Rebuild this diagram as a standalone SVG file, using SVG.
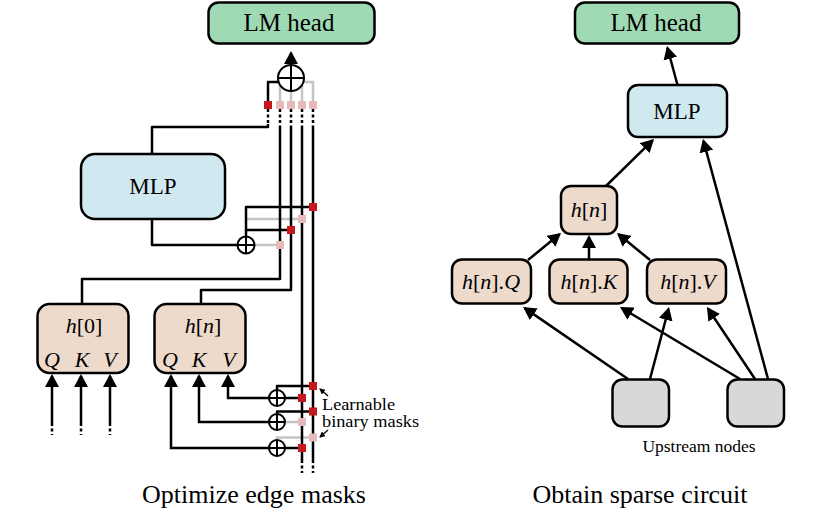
<svg xmlns="http://www.w3.org/2000/svg" width="832" height="517" viewBox="0 0 832 517">
<defs>
<marker id="ah" viewBox="0 0 13 14" refX="11" refY="7" markerWidth="13" markerHeight="14" markerUnits="userSpaceOnUse" orient="auto"><path d="M0,0 L13,7 L0,14 z" fill="#000"/></marker>
<marker id="ahs" viewBox="0 0 6 6" refX="5" refY="3" markerWidth="6" markerHeight="6" markerUnits="userSpaceOnUse" orient="auto"><path d="M0,0 L6,3 L0,6 z" fill="#000"/></marker>
</defs>
<style>
.box{stroke:#000;stroke-width:2.5}
.lm{fill:#a0dab5}
.mlp{fill:#d0e8ef}
.att{fill:#eddacb}
.up{fill:#d8d8d8}
.t{font-family:"Liberation Serif","Times New Roman",serif;fill:#000}
.i{font-style:italic}
.w{fill:none;stroke:#000;stroke-width:2.5;stroke-linejoin:round}
.g{fill:none;stroke:#c4c4c4;stroke-width:2.5}
.d{fill:none;stroke:#000;stroke-width:2.5;stroke-dasharray:3 2.5}
.on{fill:#c8161d}
.off{fill:#e8b9b9}
.sum{fill:#fff;stroke:#000;stroke-width:2}
.pl{stroke:#000;stroke-width:2}
.a{fill:none;stroke:#000;stroke-width:2.5;marker-end:url(#ah)}
.as{fill:none;stroke:#000;stroke-width:1.3;marker-end:url(#ahs)}
</style>

<!-- LEFT PANEL -->
<g id="connectors-left">
  <!-- gray (masked-off) edges -->
  <path class="g" d="M280,101 V82 H313 V101 M291,101 V82 M302,101 V82"/>
  <path class="g" d="M246,219 H302"/>
  <path class="g" d="M254,245 H280"/>
  <path class="g" d="M285,422 H302"/>
  <path class="g" d="M277,440 V437.5 H313"/>
  <!-- dotted stream segments -->
  <path class="d" d="M268,109 V124 M280,109 V127 M291,109 V127 M302,109 V127 M313,109 V127"/>
  <path class="d" d="M302,460 V473 M313,460 V473"/>
  <path class="d" d="M52,423 V435 M81,423 V435 M110,423 V435"/>
  <!-- black (active) edges -->
  <path class="w" d="M268,101 V82 H291"/>
  <path class="w" d="M268,124 V127 H152 V154"/>
  <path class="w" d="M280,127 V279 H82 V304"/>
  <path class="w" d="M291,127 V290 H201 V304"/>
  <path class="w" d="M302,127 V460 M313,127 V460"/>
  <path class="w" d="M152,219 V245 H246"/>
  <path class="w" d="M246,237 V207 H313 M246,230 H291"/>
  <path class="w" d="M277,390 V386 H313 M285,398 H302"/>
  <path class="w" d="M277,414 V411.5 H313"/>
  <path class="w" d="M285,448 H302"/>
  <!-- arrows into attention inputs -->
  <path class="a" d="M277,398 H228 V376"/>
  <path class="a" d="M277,422 H199 V376"/>
  <path class="a" d="M277,448 H171 V376"/>
  <path class="a" d="M52,423 V376"/>
  <path class="a" d="M81,423 V376"/>
  <path class="a" d="M110,423 V376"/>
  <path class="a" d="M291,66 V53"/>
  <!-- label pointers -->
  <path class="as" d="M328,396 L320,389"/>
  <path class="as" d="M328,430 L320,437"/>
</g>

<g id="masks">
  <rect class="on" x="264" y="101" width="8" height="8"/>
  <rect class="off" x="276" y="101" width="8" height="8"/>
  <rect class="off" x="287" y="101" width="8" height="8"/>
  <rect class="off" x="298" y="101" width="8" height="8"/>
  <rect class="off" x="309" y="101" width="8" height="8"/>
  <rect class="on" x="309" y="203" width="8" height="8"/>
  <rect class="off" x="298" y="215" width="8" height="8"/>
  <rect class="on" x="287" y="226" width="8" height="8"/>
  <rect class="off" x="276" y="241" width="8" height="8"/>
  <rect class="on" x="309" y="382" width="8" height="8"/>
  <rect class="on" x="298" y="394" width="8" height="8"/>
  <rect class="on" x="309" y="407.5" width="8" height="8"/>
  <rect class="off" x="298" y="418" width="8" height="8"/>
  <rect class="off" x="309" y="433.5" width="8" height="8"/>
  <rect class="on" x="298" y="444" width="8" height="8"/>
</g>

<g id="sum-top"><circle class="sum" cx="291" cy="78" r="13"/><path class="pl" d="M278,78 H304 M291,65 V91"/></g>
<g id="sum-mlp"><circle class="sum" cx="246" cy="245" r="8.5"/><path class="pl" d="M237.5,245 H254.5 M246,236.5 V253.5"/></g>
<g id="sum-v"><circle class="sum" cx="277" cy="398" r="8"/><path class="pl" d="M269,398 H285 M277,390 V406"/></g>
<g id="sum-k"><circle class="sum" cx="277" cy="422" r="8"/><path class="pl" d="M269,422 H285 M277,414 V430"/></g>
<g id="sum-q"><circle class="sum" cx="277" cy="448" r="8"/><path class="pl" d="M269,448 H285 M277,440 V456"/></g>

<g id="lm-head-left">
  <rect class="box lm" x="208.5" y="2.5" width="166" height="41" rx="10"/>
  <text class="t" x="289" y="31" font-size="25" text-anchor="middle">LM head</text>
</g>
<g id="mlp-left">
  <rect class="box mlp" x="81" y="154" width="144" height="65" rx="14"/>
  <text class="t" x="153" y="194" font-size="23" text-anchor="middle">MLP</text>
</g>
<g id="h0">
  <rect class="box att" x="37.5" y="304" width="91" height="69" rx="12"/>
  <text class="t" x="84" y="333" font-size="22" text-anchor="middle"><tspan class="i">h</tspan>[0]</text>
  <text class="t i" x="52" y="367" font-size="22" text-anchor="middle">Q</text>
  <text class="t i" x="82" y="367" font-size="22" text-anchor="middle">K</text>
  <text class="t i" x="110" y="367" font-size="22" text-anchor="middle">V</text>
</g>
<g id="hn-left">
  <rect class="box att" x="154.5" y="304" width="91" height="69" rx="12"/>
  <text class="t" x="203" y="333" font-size="22" text-anchor="middle"><tspan class="i">h</tspan>[<tspan class="i">n</tspan>]</text>
  <text class="t i" x="170" y="367" font-size="22" text-anchor="middle">Q</text>
  <text class="t i" x="199" y="367" font-size="22" text-anchor="middle">K</text>
  <text class="t i" x="229" y="367" font-size="22" text-anchor="middle">V</text>
</g>
<g id="mask-label">
  <text class="t" x="322" y="410" font-size="16" textLength="73" lengthAdjust="spacingAndGlyphs">Learnable</text>
  <text class="t" x="322" y="427" font-size="16" textLength="97" lengthAdjust="spacingAndGlyphs">binary masks</text>
</g>
<text class="t" x="254" y="503" font-size="26" text-anchor="middle">Optimize edge masks</text>

<!-- RIGHT PANEL -->
<g id="connectors-right">
  <path class="a" d="M677.5,85 L667.5,48"/>
  <path class="a" d="M606,186 L652.6,140.4"/>
  <path class="a" d="M528,260 L559.5,234.3"/>
  <path class="a" d="M589,259 L589,237"/>
  <path class="a" d="M650,260 L618.5,234.3"/>
  <path class="a" d="M628,379 L524.7,308.1"/>
  <path class="a" d="M650,379 L668.5,309"/>
  <path class="a" d="M740,379 L621.7,308"/>
  <path class="a" d="M755,379 L708.1,308.7"/>
  <path class="a" d="M768,379 L703.5,140.9"/>
</g>
<g id="lm-head-right">
  <rect class="box lm" x="575" y="2.5" width="164" height="41" rx="10"/>
  <text class="t" x="656" y="31" font-size="25" text-anchor="middle">LM head</text>
</g>
<g id="mlp-right">
  <rect class="box mlp" x="628" y="85" width="99" height="52" rx="10"/>
  <text class="t" x="677" y="119" font-size="23" text-anchor="middle">MLP</text>
</g>
<g id="hn-right">
  <rect class="box att" x="561" y="186" width="56" height="48" rx="10"/>
  <text class="t" x="589" y="217" font-size="22" text-anchor="middle"><tspan class="i">h</tspan>[<tspan class="i">n</tspan>]</text>
</g>
<g id="hnq">
  <rect class="box att" x="452" y="259.5" width="79" height="44" rx="10"/>
  <text class="t" x="491" y="289" font-size="22" text-anchor="middle"><tspan class="i">h</tspan>[<tspan class="i">n</tspan>].<tspan class="i">Q</tspan></text>
</g>
<g id="hnk">
  <rect class="box att" x="549.5" y="259.5" width="78" height="44" rx="10"/>
  <text class="t" x="589" y="289" font-size="22" text-anchor="middle"><tspan class="i">h</tspan>[<tspan class="i">n</tspan>].<tspan class="i">K</tspan></text>
</g>
<g id="hnv">
  <rect class="box att" x="647" y="259.5" width="79" height="44" rx="10"/>
  <text class="t" x="688" y="289" font-size="22" text-anchor="middle"><tspan class="i">h</tspan>[<tspan class="i">n</tspan>].<tspan class="i">V</tspan></text>
</g>
<g id="upstream-1">
  <rect class="box up" x="612.5" y="379.5" width="56.5" height="47" rx="10"/>
</g>
<g id="upstream-2">
  <rect class="box up" x="727.5" y="379.5" width="56.5" height="47" rx="10"/>
</g>
<text class="t" x="699" y="452" font-size="17.5" text-anchor="middle">Upstream nodes</text>
<text class="t" x="640" y="503" font-size="26" text-anchor="middle">Obtain sparse circuit</text>
</svg>
